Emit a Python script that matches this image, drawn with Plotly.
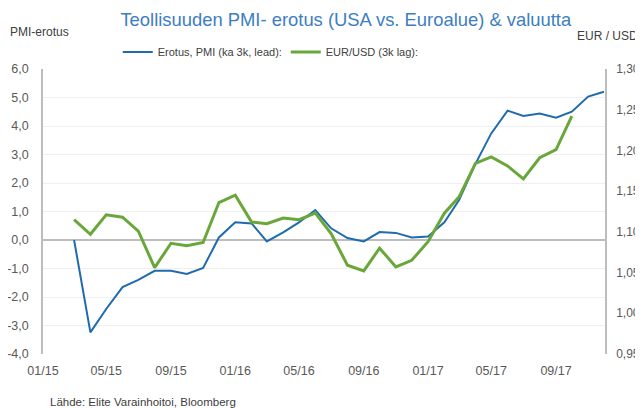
import plotly.graph_objects as go

# ---- data (monthly) ----
months = ["2015-03-01", "2015-04-01", "2015-05-01", "2015-06-01", "2015-07-01", "2015-08-01",
          "2015-09-01", "2015-10-01", "2015-11-01", "2015-12-01", "2016-01-01", "2016-02-01",
          "2016-03-01", "2016-04-01", "2016-05-01", "2016-06-01", "2016-07-01", "2016-08-01",
          "2016-09-01", "2016-10-01", "2016-11-01", "2016-12-01", "2017-01-01", "2017-02-01",
          "2017-03-01", "2017-04-01", "2017-05-01", "2017-06-01", "2017-07-01", "2017-08-01",
          "2017-09-01", "2017-10-01", "2017-11-01", "2017-12-01"]

pmi_diff = [0.00, -3.24, -2.42, -1.65, -1.40, -1.08, -1.08, -1.19, -0.98, 0.09, 0.62, 0.58,
            -0.05, 0.27, 0.62, 1.05, 0.41, 0.07, -0.05, 0.28, 0.25, 0.09, 0.12, 0.62,
            1.40, 2.67, 3.74, 4.54, 4.35, 4.44, 4.29, 4.50, 5.03, 5.20]

eurusd_months = months[:32]
eurusd = [1.115, 1.097, 1.121, 1.118, 1.101, 1.056, 1.086, 1.083, 1.087, 1.136, 1.145, 1.112,
          1.110, 1.117, 1.115, 1.123, 1.098, 1.059, 1.052, 1.080, 1.057, 1.065, 1.088, 1.123,
          1.143, 1.184, 1.192, 1.181, 1.165, 1.191, 1.201, 1.242]

left_tickvals = [6, 5, 4, 3, 2, 1, 0, -1, -2, -3, -4]
left_ticktext = ["6,0", "5,0", "4,0", "3,0", "2,0", "1,0", "0,0", "-1,0", "-2,0", "-3,0", "-4,0"]
right_tickvals = [1.30, 1.25, 1.20, 1.15, 1.10, 1.05, 1.00, 0.95]
right_ticktext = ["1,30", "1,25", "1,20", "1,15", "1,10", "1,05", "1,00", "0,95"]

series_names = ["Erotus, PMI (ka 3k, lead):", "EUR/USD (3k lag):"]

FONT = "Liberation Sans, Arial, sans-serif"
BLUE = "#1F6BAE"
GREEN = "#6AA73A"

fig = go.Figure()
fig.add_trace(go.Scatter(x=months, y=pmi_diff, name=series_names[0], mode="lines",
                         line=dict(color=BLUE, width=2), yaxis="y"))
fig.add_trace(go.Scatter(x=eurusd_months, y=eurusd, name=series_names[1], mode="lines",
                         line=dict(color=GREEN, width=3), yaxis="y2"))

# the page body adds an 8px offset, so the figure is 8px smaller than the window
fig.update_layout(
    width=635, height=400,
    margin=dict(l=35, r=38, t=61, b=54, autoexpand=False),
    paper_bgcolor="white", plot_bgcolor="white",
    font=dict(family=FONT, size=12, color="#595959"),
    title=dict(text="Teollisuuden PMI- erotus (USA vs. Euroalue) &amp; valuutta",
               x=0.532, xref="container", xanchor="center",
               y=0.97, yref="container", yanchor="middle",
               font=dict(family=FONT, size=18.4, color="#3D7EC2")),
    xaxis=dict(type="date", range=["2015-01-01", "2017-12-03"], automargin=False,
               tick0="2015-01-01", dtick="M4", tickformat="%m/%y",
               showgrid=False, showline=False, zeroline=False,
               ticks="", ticklabelstandoff=7,
               tickfont=dict(size=12.5, color="#595959")),
    yaxis=dict(range=[-4, 6], tickvals=left_tickvals, ticktext=left_ticktext, automargin=False,
               showgrid=True, gridcolor="#EFEFEF", gridwidth=1,
               zeroline=True, zerolinecolor="#BDBDBD", zerolinewidth=1.5,
               showline=True, linecolor="#BDBDBD", linewidth=1.5,
               ticks="", ticklabelstandoff=10,
               tickfont=dict(size=12.5, color="#595959")),
    yaxis2=dict(range=[0.95, 1.30], tickvals=right_tickvals, ticktext=right_ticktext,
                automargin=False,
                overlaying="y", side="right", showgrid=False, zeroline=False,
                showline=True, linecolor="#BDBDBD", linewidth=1.5,
                ticks="", ticklabelstandoff=7,
                tickfont=dict(size=12, color="#595959")),
    legend=dict(orientation="h", x=0.133, xanchor="left", y=1.06, yanchor="middle",
                font=dict(size=11, color="#404040"), bgcolor="rgba(0,0,0,0)",
                entrywidth=123, itemwidth=30, tracegroupgap=0),
    showlegend=True,
)

fig.add_annotation(text="PMI-erotus", xref="paper", yref="paper", x=-0.063, y=1.13,
                   xanchor="left", yanchor="middle", showarrow=False,
                   font=dict(family=FONT, size=12, color="#404040"))
fig.add_annotation(text="EUR / USD", xref="paper", yref="paper", x=0.946, y=1.116,
                   xanchor="left", yanchor="middle", showarrow=False,
                   font=dict(family=FONT, size=12, color="#404040"))
fig.add_annotation(text="Lähde: Elite Varainhoitoi, Bloomberg", xref="paper", yref="paper",
                   x=0.009, y=-0.168, xanchor="left", yanchor="middle", showarrow=False,
                   font=dict(family=FONT, size=11.5, color="#404040"))

fig.write_html("out.html")
